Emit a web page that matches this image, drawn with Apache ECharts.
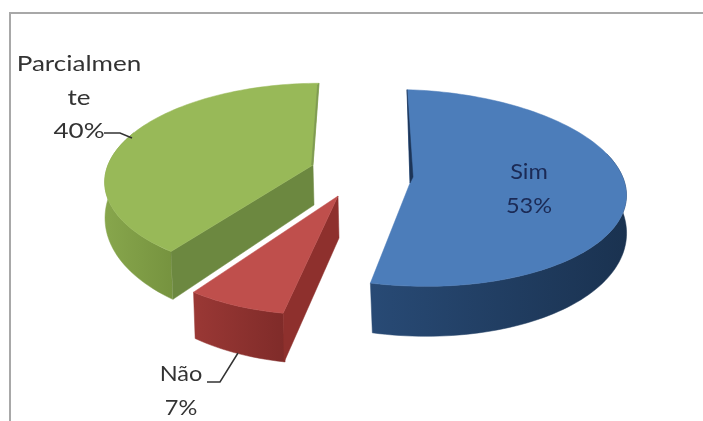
<!DOCTYPE html>
<html>
<head>
<meta charset="utf-8">
<style>html,body{margin:0;padding:0;background:#fff}#c{width:703px;height:421px}</style>
<script src="https://cdn.jsdelivr.net/npm/echarts@6/dist/echarts.min.js"></script>
</head>
<body>
<div id="c"></div>
<script>
var categories = ['Sim', 'Não', 'Parcialmente'];
var seriesValues = [53, 7, 40];

// View of each exploded slice: apex, radii, perspective, shear, wall depth
var views = [
  {ax:410, ay:183, rx:216, ry:98,  p:.05, a:-3, b:6,    d0:36, d1:14, apexD:42},
  {ax:338, ay:196, rx:212, ry:107, p:.10, a:11, b:-3.4, d0:35, d1:14, apexD:42},
  {ax:313, ay:165, rx:205, ry:94,  p:.15, a:6,  b:0,    d0:34, d1:17, apexD:40}
];
var looks = [
  {top:'#4c7dba', wall:['#284a75','#1a3250'], face:'#1d3557', text:'#1b2a55'},
  {top:'#bf4f4c', wall:['#9a3835','#7f2b29'], face:'#8e302d', text:'#333333'},
  {top:'#98b958', wall:['#87a64c','#76933f'], face:'#6c8840', text:'#333333'}
];
var labels = [
  {x:529, y:189, sx:1.12, line:null},
  {x:181, y:391, sx:1.12, line:[[207,382],[220,382],[238,353]]},
  {x:79,  y:98,  sx:1.24, line:[[104,133],[120,133],[132,138]]}
];

var total = seriesValues.reduce(function(s,v){return s+v;},0);
function startOf(i){
  var s=0; for(var k=0;k<i;k++) s+=seriesValues[k];
  return s/total*Math.PI*2;
}
function project(v,t){
  var X=Math.sin(t), Y=Math.cos(t), w=1+v.p*Y;
  return [v.ax+v.rx*X/w+v.a*Y, v.ay-v.ry*Y/w+v.b*X];
}
function depth(v,t){ return v.d0-v.d1*Math.cos(t); }
function arc(v,t0,t1,drop,sx){
  var n=Math.max(2,Math.ceil((t1-t0)/0.03)), out=[];
  for(var i=0;i<=n;i++){
    var t=t0+(t1-t0)*i/n, q=project(v,t);
    out.push([q[0]+(drop?(sx||0)*(-Math.cos(t)):0), q[1]+(drop?depth(v,t):0)]);
  }
  return out;
}
function poly(points,fill){
  return {type:'polygon',shape:{points:points},style:{fill:fill,stroke:fill,lineWidth:.5}};
}
function grad(c){
  return {type:'linear',x:0,y:0,x2:1,y2:0,colorStops:[{offset:0,color:c[0]},{offset:1,color:c[1]}]};
}

function renderItem(params,api){
  var i=params.dataIndex, v=views[i], c=looks[i], l=labels[i];
  var t0=startOf(i), t1=t0+api.value(0)/total*Math.PI*2;
  var apex=[v.ax,v.ay], apexLow=[v.ax+1,v.ay+v.apexD];
  var kids=[];
  // outer wall: only the part turned to the viewer
  var w0=Math.max(t0,1.2), w1=Math.min(t1,Math.PI*2-1.2);
  var upperW=arc(v,w0,w1,false), lowerW=arc(v,w0,w1,true,2);
  kids.push(poly(upperW.concat(lowerW.slice().reverse()),grad(c.wall)));
  var upper=arc(v,t0,t1,false);
  // cut faces that look at the viewer
  var a0=project(v,t0), a1=project(v,t1);
  if(i===1){
    kids.push(poly([apex,a0,[a0[0]+1,a0[1]+depth(v,t0)],apexLow],c.face));
  }
  if(i===2){
    kids.push(poly([apex,a0,[a0[0]+2,a0[1]+depth(v,t0)],apexLow],c.face));
  }
  // top surface
  kids.push(poly([apex].concat(upper),c.top));
  if(i===0){
    kids.push(poly([a0,apex,[v.ax+3,v.ay-6]],c.face));
  }
  if(i===2){
    kids.push(poly([a1,[v.ax,v.ay],[v.ax-1.5,v.ay],[a1[0]-1.5,a1[1]+2]],'#7f9a52'));
  }
  // leader
  if(l.line){
    kids.push({type:'polyline',shape:{points:l.line},style:{stroke:'#333333',fill:null,lineWidth:1.5}});
  }
  // label, wrapped as the chart wraps it
  var name=categories[i].match(/.{1,10}/g).join('\n');
  kids.push({
    type:'text',x:l.x,y:l.y,scaleX:l.sx,
    style:{text:name+'\n'+Math.round(api.value(0)/total*100)+'%',x:0,y:0,
      textAlign:'center',textVerticalAlign:'middle',
      fontFamily:'Lato',fontSize:21,lineHeight:33.5,fill:c.text}
  });
  return {type:'group',children:kids};
}

var chart=echarts.init(document.getElementById('c'),null,{renderer:'canvas'});
chart.setOption({
  animation:false,
  backgroundColor:'#ffffff',
  graphic:[{type:'polyline',shape:{points:[[10,421],[10,13],[703,13]]},style:{stroke:'#a8a8a8',fill:null,lineWidth:2}}],
  series:[{
    type:'custom',
    coordinateSystem:'none',
    renderItem:renderItem,
    data:seriesValues.map(function(v,i){return {name:categories[i],value:[v]};})
  }]
});
</script>
</body>
</html>
